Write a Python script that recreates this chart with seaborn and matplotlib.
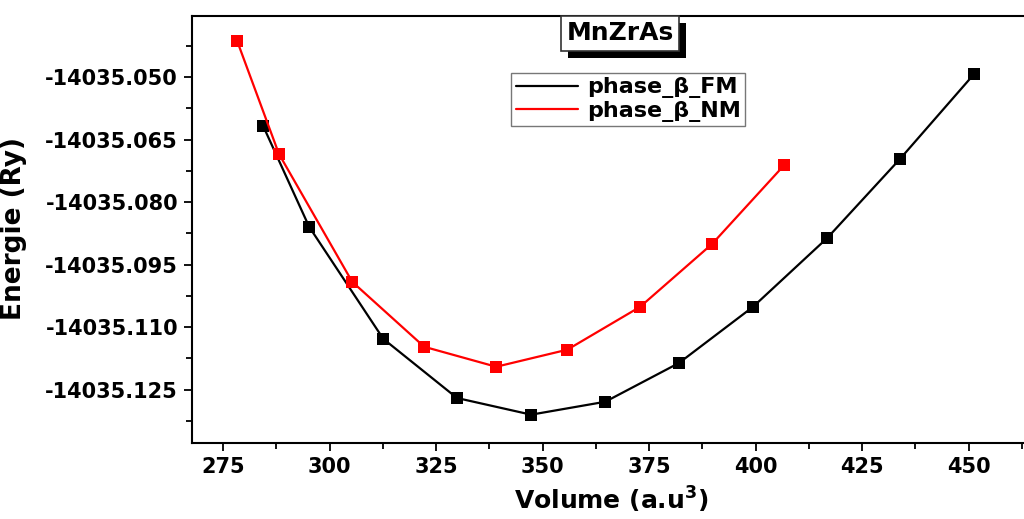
import numpy as np
import pandas as pd
import matplotlib
matplotlib.use("Agg")
import matplotlib.pyplot as plt
import matplotlib.patheffects as pe
from matplotlib.lines import Line2D
from matplotlib.ticker import MultipleLocator, FormatStrFormatter
import seaborn as sns

# values
fm_volume = [284.4, 295.2, 312.6, 329.9, 347.3, 364.7, 382.0, 399.4, 416.8, 433.9, 451.3]
fm_energy = [-14035.0617, -14035.0859, -14035.1128, -14035.1270, -14035.1310, -14035.1279,
             -14035.1186, -14035.1051, -14035.0886, -14035.0696, -14035.0492]

nm_volume = [278.3, 288.1, 305.3, 322.2, 339.1, 355.8, 372.9, 389.8, 406.7]
nm_energy = [-14035.0413, -14035.0684, -14035.0991, -14035.1147, -14035.1195, -14035.1154,
             -14035.1051, -14035.0900, -14035.0711]

series_names = ["phase_\u03b2_FM", "phase_\u03b2_NM"]
series_colors = ["black", "red"]

sns.set_style("ticks")
plt.rcParams["font.family"] = ["DejaVu Sans"]
plt.rcParams["font.weight"] = "bold"
plt.rcParams["text.color"] = "black"
plt.rcParams["axes.labelcolor"] = "black"
plt.rcParams["xtick.color"] = "black"
plt.rcParams["ytick.color"] = "black"

fig = plt.figure(figsize=(10.24, 5.19), dpi=100)
ax = fig.add_axes([192 / 1024, 76 / 519, (1030 - 192) / 1024, 427 / 519])

fm = pd.DataFrame({"Volume": fm_volume, "Energy": fm_energy})
nm = pd.DataFrame({"Volume": nm_volume, "Energy": nm_energy})

for df, color in zip([fm, nm], series_colors):
    sns.lineplot(data=df, x="Volume", y="Energy", ax=ax, color=color, sort=False,
                 linewidth=1.6, marker="s", markersize=8, markeredgewidth=0,
                 estimator=None)

ax.set_xlim(267.7, 464.4)
ax.set_ylim(-14035.1378, -14035.0353)
ax.xaxis.set_major_locator(MultipleLocator(25))
ax.xaxis.set_minor_locator(MultipleLocator(12.5))
ax.yaxis.set_major_locator(MultipleLocator(0.015))
ax.yaxis.set_minor_locator(MultipleLocator(0.0075))
ax.yaxis.set_major_formatter(FormatStrFormatter("%.3f"))

ax.tick_params(which="both", direction="out", width=1.3, colors="black",
               labelcolor="black", top=False, right=False)
ax.tick_params(which="major", length=6, labelsize=15, pad=4)
ax.tick_params(which="minor", length=4)
for lab in ax.get_xticklabels() + ax.get_yticklabels():
    lab.set_fontweight("bold")

for side in ["left", "bottom", "top", "right"]:
    ax.spines[side].set_visible(True)
    ax.spines[side].set_linewidth(1.5)
    ax.spines[side].set_color("black")

ax.set_xlabel("Volume (a.u$^\\mathbf{3}$)", fontsize=18, fontweight="bold",
              labelpad=6, color="black")
ax.set_ylabel("")
fig.text(1 / 1024, 1 - 229 / 519, "Energie (Ry)", rotation=90,
         ha="left", va="center", fontsize=19, fontweight="bold", color="black")

# title box with a solid drop shadow
title = ax.text(0.511, 0.960, "MnZrAs", transform=ax.transAxes, ha="center", va="center",
                fontsize=18, fontweight="bold", color="black",
                bbox=dict(boxstyle="square,pad=0.22", facecolor="white", edgecolor="#333333",
                          linewidth=1.2))
title.get_bbox_patch().set_path_effects([
    pe.SimplePatchShadow(offset=(5, -5), shadow_rgbFace="black", alpha=1.0),
    pe.Normal(),
])

handles = [Line2D([0], [0], color=c, linewidth=1.6) for c in series_colors]
leg = ax.legend(handles, series_names, loc="upper left", bbox_to_anchor=(0.381, 0.8665),
                frameon=True, fancybox=False, fontsize=16, handlelength=2.8,
                handletextpad=0.4, borderpad=0.2, labelspacing=0.1, borderaxespad=0)
leg.get_frame().set_edgecolor("#555555")
leg.get_frame().set_linewidth(1.0)
for t in leg.get_texts():
    t.set_fontweight("bold")
    t.set_color("black")

fig.savefig("out.png", dpi=100)
